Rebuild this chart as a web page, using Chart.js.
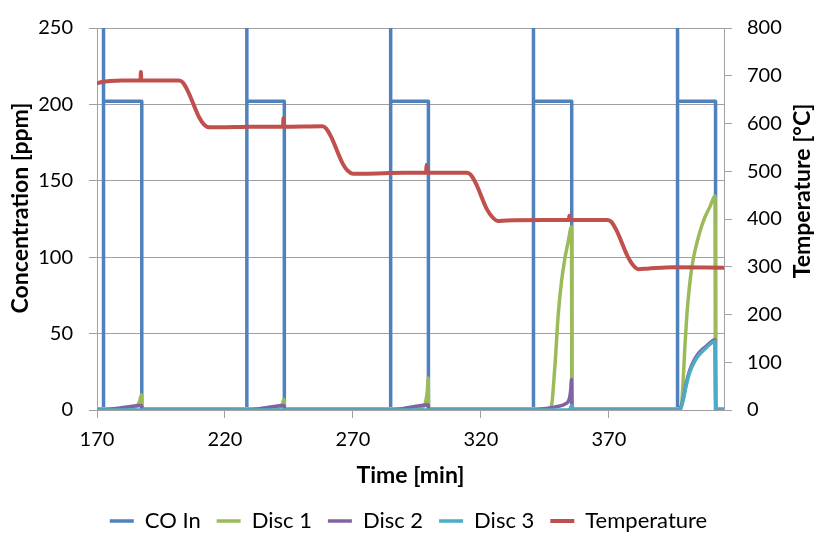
<!DOCTYPE html>
<html>
<head>
<meta charset="utf-8">
<title>CO conversion at stepped temperatures</title>
<script src="https://cdn.jsdelivr.net/npm/chart.js@4.4.1/dist/chart.umd.min.js"></script>
<style>
  html, body { margin: 0; padding: 0; background: #fff; }
  canvas { display: block; }
</style>
</head>
<body>
<canvas id="coChart" width="817" height="539"></canvas>
<script>
// x axis ticks [min]
const timeTicks = [170, 220, 270, 320, 370];

// CO inlet: injection spike, ~202 ppm plateau, then switched off
const coInTime = [170, 172.5, 172.5, 172.6, 187.5, 187.5,
                  228.5, 228.5, 228.6, 243.2, 243.2,
                  284.7, 284.7, 284.8, 299.5, 299.5,
                  340.5, 340.5, 340.6, 355.5, 355.5,
                  396.8, 396.8, 396.9, 411.7, 411.7, 415];
const coInPpm = [0, 0, 1000, 202, 202, 0,
                 0, 1000, 202, 202, 0,
                 0, 1000, 202, 202, 0,
                 0, 1000, 202, 202, 0,
                 0, 1000, 202, 202, 0, 0];

// Disc 1 outlet CO [ppm]
const disc1Time = [170, 183, 185, 186.5, 187.4, 187.6,
                   239, 241, 242.3, 243.1, 243.3,
                   296, 297.5, 298.5, 299.1, 299.4, 299.6,
                   347.3, 348.9, 350.2, 351.5, 352.8, 354.1, 355.4, 355.6,
                   398.2, 399.0, 399.7, 400.4, 401.2, 402.0, 403.0, 404.5, 406.0, 407.5, 409.5, 411.5, 411.8, 415];
const disc1Ppm = [0.8, 1, 2, 5, 10, 0.8,
                  0.8, 1.5, 3.5, 7, 0.8,
                  0.8, 2, 6, 13, 21, 0.8,
                  1, 28, 62, 84, 99, 110, 120, 0.8,
                  1, 18, 41, 60, 76, 88, 99, 110, 119, 126, 133, 140, 0.8, 0.8];

// Disc 2 outlet CO [ppm]
const disc2Time = [170, 172.5, 180, 187.4, 187.6,
                   228.5, 236, 243.1, 243.3,
                   284.7, 292, 299.4, 299.6,
                   340.5, 346, 350, 353, 354.5, 355.1, 355.4, 355.6,
                   397.5, 399, 400.3, 401.6, 403.6, 405.5, 408.2, 411.5, 411.8, 415];
const disc2Ppm = [0, 0, 1.6, 3, 0,
                  0, 1.5, 3, 0,
                  0, 1.6, 3.5, 0,
                  0, 1.2, 2.4, 4, 7, 13, 20, 0,
                  0, 7, 18, 26, 33.5, 38, 42, 46, 0, 0];

// Disc 3 outlet CO [ppm]
const disc3Time = [170, 354, 355, 355.4, 355.6,
                   397.7, 399, 400.3, 401.6, 403.6, 405.5, 408.2, 411.5, 411.8, 415];
const disc3Ppm = [0, 0, 1, 3, 0,
                  0, 6, 16.5, 24.5, 32, 36.5, 41, 45, 0, 0];

// furnace temperature [°C], right axis
const tempTime = [170, 172, 175, 180, 187.0, 187.15, 187.3,
                  202, 203.5, 205.5, 210, 212, 214, 218, 230,
                  242.7, 242.85, 243.0,
                  258, 259.5, 261.5, 266, 268, 270, 274, 290,
                  298.6, 298.75, 298.9,
                  314.5, 316, 318, 322.5, 324.5, 326.5, 330, 345,
                  354.4, 354.55, 354.7,
                  369.5, 371, 373, 377.5, 379.5, 381.5, 385, 395, 415];
const tempC = [684, 687, 689, 690, 690, 708, 690,
               690, 686, 668, 612, 597, 592, 592, 593,
               593, 611, 593,
               594, 590, 572, 516, 501, 495, 495, 497,
               497, 513, 497,
               497, 493, 475, 419, 404, 396, 397, 398,
               398, 407, 398,
               398, 394, 376, 320, 303, 295, 296, 299, 298];

const FONT_FAMILY = 'Lato, "Open Sans", sans-serif';
const GRID_COLOR = '#a0a0a0';

function toPoints(times, values) {
    return times.map((t, i) => ({ x: t, y: values[i] }));
}

function lineSeries(label, times, values, color, extra) {
    return Object.assign({
        label: label,
        data: toPoints(times, values),
        borderColor: color,
        backgroundColor: color,
        borderWidth: 3.5,
        pointRadius: 0,
        pointHoverRadius: 0,
        pointStyle: 'line',
        fill: false,
        borderJoinStyle: 'round',
        yAxisID: 'y'
    }, extra || {});
}

// vertical axis titles, both reading bottom-to-top
const axisTitles = {
    id: 'axisTitles',
    afterDraw(chart) {
        const ctx = chart.ctx;
        ctx.save();
        ctx.font = 'bold 23px ' + FONT_FAMILY;
        ctx.fillStyle = '#000';
        ctx.textAlign = 'center';
        ctx.textBaseline = 'middle';
        [['Concentration [ppm]', 21, 208], ['Temperature [°C]', 803, 191]].forEach(([text, x, y]) => {
            ctx.save();
            ctx.translate(x, y);
            ctx.rotate(-Math.PI / 2);
            ctx.fillText(text, 0, 0);
            ctx.restore();
        });
        ctx.restore();
    }
};

const ctx = document.getElementById('coChart').getContext('2d');

new Chart(ctx, {
    type: 'line',
    data: {
        datasets: [
            lineSeries('CO In', coInTime, coInPpm, '#4F81BD', { order: 4 }),
            lineSeries('Disc 1', disc1Time, disc1Ppm, '#9BBB59', { order: 3, cubicInterpolationMode: 'monotone' }),
            lineSeries('Disc 2', disc2Time, disc2Ppm, '#8064A2', { order: 2, cubicInterpolationMode: 'monotone' }),
            lineSeries('Disc 3', disc3Time, disc3Ppm, '#4BACC6', { order: 1, cubicInterpolationMode: 'monotone' }),
            lineSeries('Temperature', tempTime, tempC, '#C0504D', { order: 0, yAxisID: 'y1', borderWidth: 4, cubicInterpolationMode: 'monotone' })
        ]
    },
    options: {
        responsive: false,
        animation: false,
        layout: { padding: { top: 24, left: 0, right: 0, bottom: -3 } },
        plugins: {
            tooltip: { enabled: false },
            legend: {
                position: 'bottom',
                labels: {
                    usePointStyle: true,
                    pointStyleWidth: 24,
                    padding: 16,
                    color: '#000',
                    font: { family: FONT_FAMILY, size: 22 },
                    sort: (a, b) => a.datasetIndex - b.datasetIndex
                }
            }
        },
        scales: {
            x: {
                type: 'linear',
                min: 170,
                max: 415,
                afterBuildTicks: axis => { axis.ticks = timeTicks.map(v => ({ value: v })); },
                afterFit: axis => { axis.height = 84; },
                grid: { drawOnChartArea: false, color: GRID_COLOR, tickLength: 8 },
                border: { color: GRID_COLOR, width: 1 },
                ticks: {
                    autoSkip: false,
                    maxRotation: 0,
                    padding: 10,
                    color: '#000',
                    font: { family: FONT_FAMILY, size: 20 }
                },
                title: {
                    display: true,
                    text: 'Time [min]',
                    color: '#000',
                    font: { family: FONT_FAMILY, size: 23, weight: 'bold' },
                    padding: { top: 0, bottom: 5 }
                }
            },
            y: {
                position: 'left',
                min: 0,
                max: 250,
                afterFit: axis => { axis.width = 97; },
                grid: { color: GRID_COLOR, tickLength: 8 },
                border: { color: GRID_COLOR, width: 1 },
                ticks: {
                    stepSize: 50,
                    padding: 16,
                    color: '#000',
                    font: { family: FONT_FAMILY, size: 20 }
                }
            },
            y1: {
                position: 'right',
                min: 0,
                max: 800,
                afterFit: axis => { axis.width = 93; },
                grid: { drawOnChartArea: false, color: GRID_COLOR, tickLength: 8 },
                border: { color: GRID_COLOR, width: 1 },
                ticks: {
                    stepSize: 100,
                    padding: 15,
                    color: '#000',
                    font: { family: FONT_FAMILY, size: 20 }
                }
            }
        }
    },
    plugins: [axisTitles]
});
</script>
</body>
</html>
